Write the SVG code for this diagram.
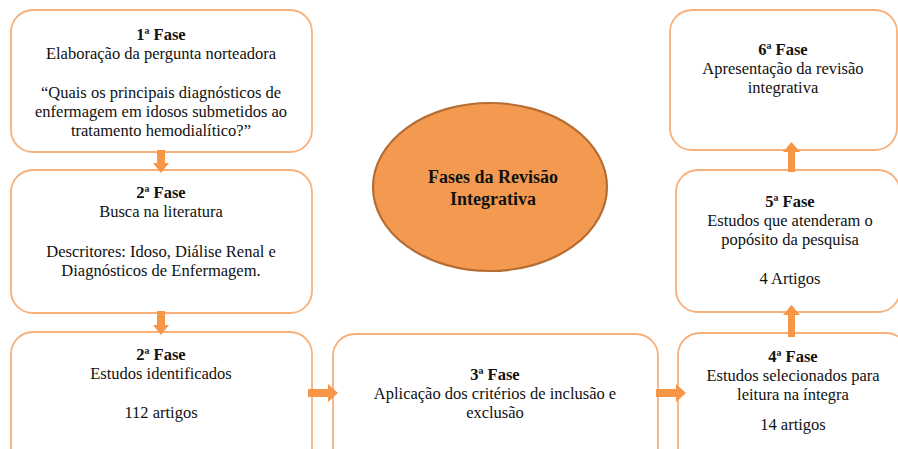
<svg xmlns="http://www.w3.org/2000/svg" width="898" height="449" viewBox="0 0 898 449" font-family="Liberation Serif, Times New Roman, DejaVu Serif, serif">
  <style>
    .box { fill: #ffffff; stroke: #F8B07A; stroke-width: 1.8; }
    .t { font-size: 16.5px; fill: #111; text-anchor: middle; }
    .b { font-weight: bold; }
    .arrow { fill: #F79646; }
    .el { fill: #F39A50; stroke: #B56D34; stroke-width: 2.2; }
    .et { font-size: 18px; font-weight: bold; fill: #111; text-anchor: middle; }
  </style>
  <rect width="898" height="449" fill="#ffffff"/>

  <g id="fase1">
    <rect class="box" x="11" y="10" width="301" height="142" rx="22" ry="22"/>
    <text class="t b" x="161" y="40">1ª Fase</text>
    <text class="t" x="161" y="59">Elaboração da pergunta norteadora</text>
    <text class="t" x="161" y="98">“Quais os principais diagnósticos de</text>
    <text class="t" x="161" y="117">enfermagem em idosos submetidos ao</text>
    <text class="t" x="161" y="136">tratamento hemodialítico?”</text>
  </g>

  <g id="fase2-busca">
    <rect class="box" x="11" y="170" width="301" height="143" rx="22" ry="22"/>
    <text class="t b" x="161" y="198">2ª Fase</text>
    <text class="t" x="161" y="217">Busca na literatura</text>
    <text class="t" x="161" y="257">Descritores: Idoso, Diálise Renal e</text>
    <text class="t" x="161" y="276">Diagnósticos de  Enfermagem.</text>
  </g>

  <g id="fase2-estudos">
    <rect class="box" x="11" y="332" width="301" height="140" rx="22" ry="22"/>
    <text class="t b" x="161" y="360">2ª Fase</text>
    <text class="t" x="161" y="379">Estudos identificados</text>
    <text class="t" x="161" y="418">112 artigos</text>
  </g>

  <g id="fase3">
    <rect class="box" x="333" y="334" width="325" height="140" rx="22" ry="22"/>
    <text class="t b" x="495" y="380">3ª Fase</text>
    <text class="t" x="495" y="399">Aplicação dos critérios de inclusão e</text>
    <text class="t" x="495" y="418">exclusão</text>
  </g>

  <g id="fase4">
    <rect class="box" x="678" y="333" width="230" height="140" rx="22" ry="22"/>
    <text class="t b" x="793" y="362">4ª Fase</text>
    <text class="t" x="793" y="381">Estudos selecionados para</text>
    <text class="t" x="793" y="400">leitura na íntegra</text>
    <text class="t" x="793" y="430">14 artigos</text>
  </g>

  <g id="fase5">
    <rect class="box" x="676" y="170" width="224" height="142" rx="22" ry="22"/>
    <text class="t b" x="790" y="207">5ª Fase</text>
    <text class="t" x="790" y="226">Estudos que atenderam o</text>
    <text class="t" x="790" y="245">popósito da pesquisa</text>
    <text class="t" x="790" y="284">4 Artigos</text>
  </g>

  <g id="fase6">
    <rect class="box" x="670" y="10" width="227" height="140" rx="22" ry="22"/>
    <text class="t b" x="783" y="55">6ª Fase</text>
    <text class="t" x="783" y="74">Apresentação da revisão</text>
    <text class="t" x="783" y="93">integrativa</text>
  </g>

  <g id="centro">
    <ellipse class="el" cx="490" cy="187" rx="117" ry="84"/>
    <text class="et" x="493" y="183">Fases da Revisão</text>
    <text class="et" x="493" y="205">Integrativa</text>
  </g>

  <g id="connectors">
    <polygon class="arrow" points="157,150 165,150 165,163 169,163 161,173 153,163 157,163"/>
    <polygon class="arrow" points="157,311 165,311 165,325 169,325 161,335 153,325 157,325"/>
    <polygon class="arrow" points="308,389 328,389 328,384 338,393 328,402 328,397 308,397"/>
    <polygon class="arrow" points="656,389 676,389 676,384 686,393 676,402 676,397 656,397"/>
    <polygon class="arrow" points="788,337 795,337 795,315 800,315 791.5,305 783,315 788,315"/>
    <polygon class="arrow" points="788,172 795,172 795,152 800,152 791.5,142 783,152 788,152"/>
  </g>
</svg>
